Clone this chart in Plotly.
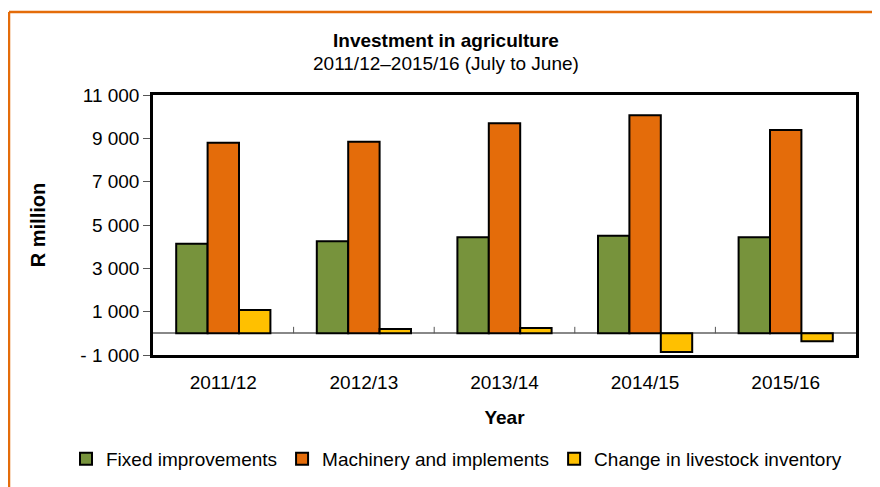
import plotly.graph_objects as go

years = ['2011/12', '2012/13', '2013/14', '2014/15', '2015/16']
fixed = [4140, 4250, 4430, 4500, 4440]
machinery = [8800, 8840, 9700, 10060, 9380]
livestock = [1080, 200, 250, -860, -370]

tick_vals = [-1000, 1000, 3000, 5000, 7000, 9000, 11000]
tick_text = ['- 1 000', '1 000', '3 000', '5 000', '7 000', '9 000', '11 000']

# page body has an 8px margin, so the figure is drawn 8px smaller
W, H = 872, 479
L, R, T, B = 145, 24, 87, 132
PW, PH = W - L - R, H - T - B


def px(x):
    return (x - 8 - L) / PW


def py(y):
    return (H - B - (y - 8)) / PH


fig = go.Figure()
fig.add_trace(go.Bar(x=years, y=fixed, name='Fixed improvements',
                     marker=dict(color='#77933c', line=dict(color='black', width=2))))
fig.add_trace(go.Bar(x=years, y=machinery, name='Machinery and implements',
                     marker=dict(color='#e46c0a', line=dict(color='black', width=2))))
fig.add_trace(go.Bar(x=years, y=livestock, name='Change in livestock inventory',
                     marker=dict(color='#ffc000', line=dict(color='black', width=2))))

# small category-boundary ticks sitting on the zero line
for i in range(len(years) - 1):
    fig.add_shape(type='line', xref='x', yref='y', x0=i + 0.5, x1=i + 0.5, y0=0, y1=300,
                  line=dict(color='#555555', width=1))

# orange frame round the chart (right/bottom fall off the picture)
fig.add_shape(type='line', xref='paper', yref='paper', x0=px(9), x1=px(900),
              y0=py(12), y1=py(12), line=dict(color='#e46c0a', width=2.5))
fig.add_shape(type='line', xref='paper', yref='paper', x0=px(9), x1=px(9),
              y0=py(12), y1=py(500), line=dict(color='#e46c0a', width=2.5))

fig.add_annotation(text='<b>Investment in agriculture</b>', xref='paper', yref='paper',
                   x=px(446), y=py(40), yanchor='middle', showarrow=False,
                   font=dict(size=19, color='black'))
fig.add_annotation(text='2011/12–2015/16 (July to June)', xref='paper', yref='paper',
                   x=px(446), y=py(64), yanchor='middle', showarrow=False,
                   font=dict(size=19, color='black'))

fig.update_layout(
    barmode='group',
    bargap=0.33,
    bargroupgap=0,
    width=W,
    height=H,
    margin=dict(l=L, r=R, t=T, b=B, autoexpand=False),
    plot_bgcolor='white',
    paper_bgcolor='white',
    font=dict(family='Liberation Sans, Arial', size=19, color='black'),
    showlegend=True,
    legend=dict(orientation='h', x=px(66), xanchor='left', y=py(459), yanchor='middle',
                font=dict(size=19), itemwidth=30, traceorder='normal'),
    xaxis=dict(
        showline=True, linecolor='black', linewidth=2.5, mirror=True,
        ticks='', ticklabelstandoff=8,
        title=dict(text='<b>Year</b>', font=dict(size=19), standoff=20),
    ),
    yaxis=dict(
        range=[-1000, 11000],
        tickvals=tick_vals, ticktext=tick_text,
        showline=True, linecolor='black', linewidth=2.5, mirror=True,
        ticks='outside', ticklen=7, tickcolor='#555555',
        showgrid=False,
        zeroline=True, zerolinecolor='#888888', zerolinewidth=1.5,
        title=dict(text='<b>R million</b>', font=dict(size=20), standoff=30),
    ),
)

fig.write_html('out.html')
